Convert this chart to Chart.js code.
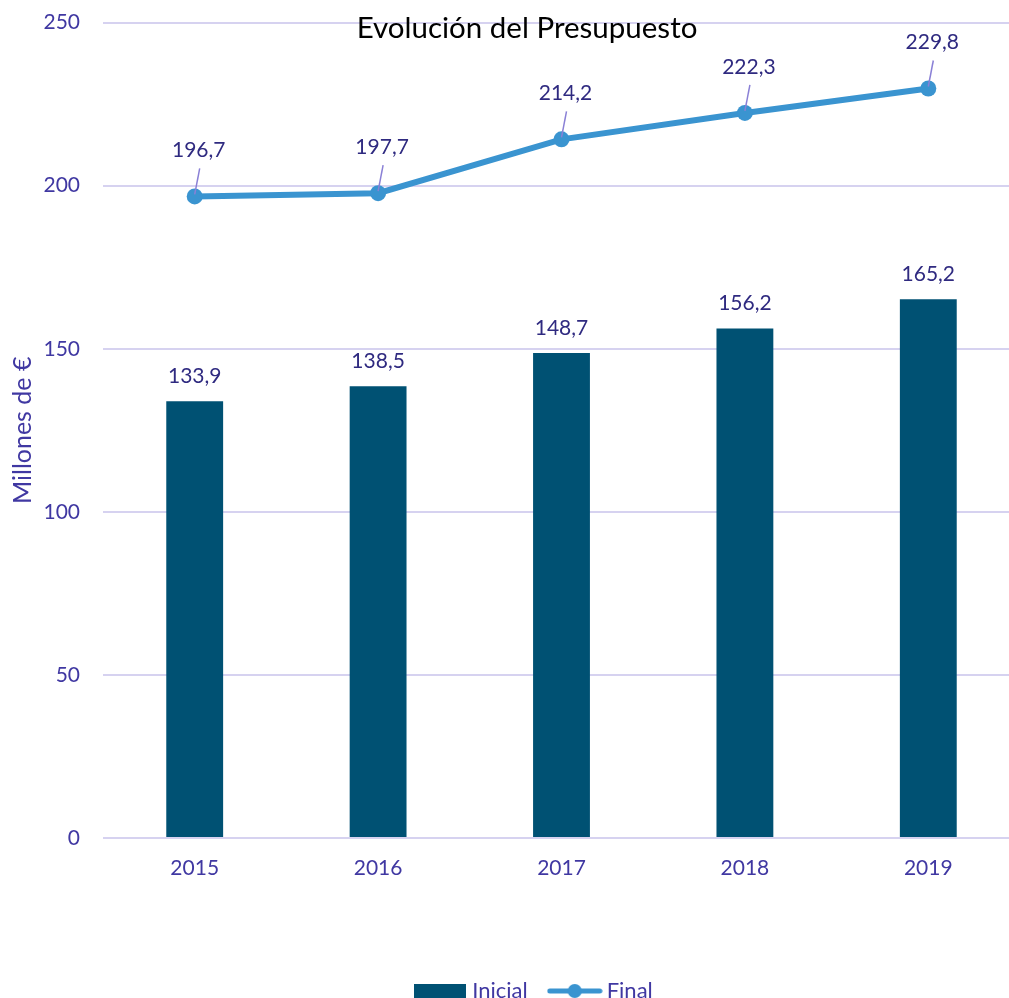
<!DOCTYPE html>
<html>
<head>
<meta charset="utf-8">
<script src="https://cdn.jsdelivr.net/npm/chart.js@4.4.1/dist/chart.umd.min.js"></script>
<style>
html, body { margin: 0; padding: 0; overflow: hidden; background: #fff; }
#budgetChart { display: block; margin-top: -13px; }
</style>
</head>
<body>
<canvas id="budgetChart" width="1028" height="1025"></canvas>
<script>
// Data
const years = ['2015', '2016', '2017', '2018', '2019'];
const inicial = [133.9, 138.5, 148.7, 156.2, 165.2];
const final = [196.7, 197.7, 214.2, 222.3, 229.8];
const yMin = 0, yMax = 250, yStep = 50;

const barColor = '#005173';
const lineColor = '#3a94d0';
const tickColor = '#4038a2';
const labelColor = '#2f2a80';
const gridColor = '#d6d2f0';
const font = 'Lato';

const fmt = v => v.toFixed(1).replace('.', ',');

// Legend swatches
function barSwatch() {
    const c = document.createElement('canvas');
    c.width = 52; c.height = 14;
    const g = c.getContext('2d');
    g.fillStyle = barColor;
    g.fillRect(0, 0, 52, 14);
    return c;
}
function lineSwatch() {
    const c = document.createElement('canvas');
    c.width = 56; c.height = 16;
    const g = c.getContext('2d');
    g.strokeStyle = lineColor;
    g.lineWidth = 5;
    g.lineCap = 'round';
    g.beginPath(); g.moveTo(3, 8); g.lineTo(53, 8); g.stroke();
    g.fillStyle = lineColor;
    g.beginPath(); g.arc(28, 8, 7, 0, Math.PI * 2); g.fill();
    return c;
}

// Title drawn over the plot
const chartTitle = {
    id: 'chartTitle',
    afterLayout(chart) {
        chart.legend.left += 46;
    },
    afterDraw(chart) {
        const ctx = chart.ctx;
        ctx.save();
        ctx.font = '29.5px ' + font;
        ctx.fillStyle = '#000';
        ctx.textAlign = 'center';
        ctx.textBaseline = 'alphabetic';
        ctx.fillText('Evolución del Presupuesto', 527, 51);
        ctx.restore();
    }
};

// Value labels
const valueLabels = {
    id: 'valueLabels',
    afterDatasetsDraw(chart) {
        const ctx = chart.ctx;
        ctx.save();
        ctx.font = '21px ' + font;
        ctx.fillStyle = labelColor;
        ctx.textAlign = 'center';
        ctx.textBaseline = 'middle';
        chart.getDatasetMeta(0).data.forEach((bar, i) => {
            ctx.fillText(fmt(inicial[i]), bar.x, bar.y - 25);
        });
        chart.getDatasetMeta(1).data.forEach((pt, i) => {
            ctx.strokeStyle = '#8a80d6';
            ctx.lineWidth = 1.5;
            ctx.beginPath();
            ctx.moveTo(pt.x, pt.y - 2);
            ctx.lineTo(pt.x + 5, pt.y - 28);
            ctx.stroke();
            ctx.fillText(fmt(final[i]), pt.x + 4, pt.y - 46);
        });
        ctx.restore();
    }
};

const ctx = document.getElementById('budgetChart').getContext('2d');
new Chart(ctx, {
    type: 'bar',
    data: {
        labels: years,
        datasets: [
            {
                label: 'Inicial',
                data: inicial,
                backgroundColor: barColor,
                categoryPercentage: 1,
                barPercentage: 0.31,
                order: 2
            },
            {
                type: 'line',
                label: 'Final',
                data: final,
                borderColor: lineColor,
                backgroundColor: lineColor,
                borderWidth: 6,
                pointRadius: 8,
                pointHoverRadius: 8,
                pointBackgroundColor: lineColor,
                pointBorderWidth: 0,
                tension: 0,
                order: 1
            }
        ]
    },
    options: {
        responsive: false,
        animation: false,
        layout: { padding: { top: 9, right: 2, left: 0, bottom: 0 } },
        plugins: {
            tooltip: { enabled: false },
            legend: {
                position: 'bottom',
                labels: {
                    usePointStyle: true,
                    pointStyleWidth: 42,
                    color: tickColor,
                    font: { family: font, size: 22 },
                    padding: 26,
                    generateLabels: () => [
                        { text: 'Inicial', pointStyle: barSwatch(), fontColor: tickColor, datasetIndex: 0, lineWidth: 0 },
                        { text: 'Final', pointStyle: lineSwatch(), fontColor: tickColor, datasetIndex: 1, lineWidth: 0 }
                    ]
                }
            }
        },
        scales: {
            x: {
                grid: { display: false, drawTicks: false },
                border: { display: false },
                ticks: { color: tickColor, font: { family: font, size: 21 }, padding: 18 },
                afterFit: s => { s.height = 116; }
            },
            y: {
                min: yMin,
                max: yMax,
                ticks: { stepSize: yStep, color: tickColor, font: { family: font, size: 21 }, padding: 23 },
                grid: { color: gridColor, lineWidth: 2, drawTicks: false },
                border: { display: false },
                title: {
                    display: true,
                    text: 'Millones de €',
                    color: tickColor,
                    font: { family: font, size: 25 },
                    padding: { top: 8, bottom: 0 }
                },
                afterFit: s => { s.width = 103; }
            }
        }
    },
    plugins: [chartTitle, valueLabels]
});
</script>
</body>
</html>
